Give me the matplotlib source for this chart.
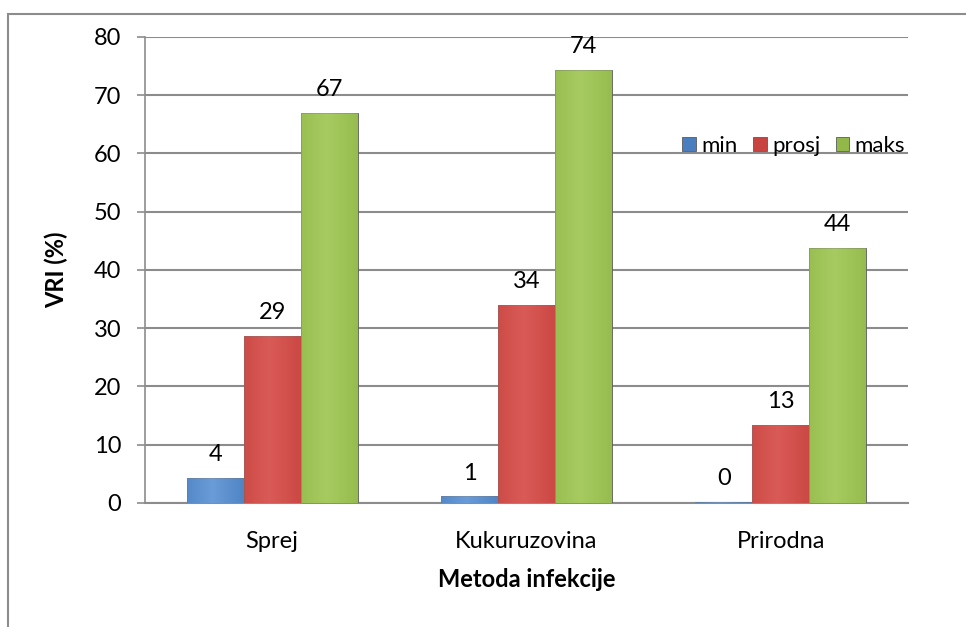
import numpy as np
import matplotlib.pyplot as plt
from matplotlib.patches import Rectangle
from matplotlib.colors import LinearSegmentedColormap

metode = ["Sprej", "Kukuruzovina", "Prirodna"]
serije = ["min", "prosj", "maks"]
vri_min = [4.3, 1.1, 0.2]
vri_prosj = [28.6, 34.0, 13.4]
vri_maks = [66.9, 74.4, 43.8]
oznake_y = [0, 10, 20, 30, 40, 50, 60, 70, 80]

boje = ["#4a7ebf", "#c84440", "#92b84a"]
svijetle = ["#7fb0ea", "#e46a66", "#b5d870"]

plt.rcParams['font.family'] = ['Lato', 'DejaVu Sans']
vel = 17

fig = plt.figure(figsize=(9.66, 6.27), dpi=100)
ax = fig.add_axes([0.150, 0.198, 0.790, 0.743])

# okvir oko grafikona
fig.patches.append(Rectangle((8 / 966, -0.1), 1.2, 1.1 - 14 / 627, transform=fig.transFigure,
                             fill=False, edgecolor="#8c8c8c", linewidth=1.5))

x = np.arange(len(metode))
sirina = 0.224
podaci = [vri_min, vri_prosj, vri_maks]

for i, vrijednosti in enumerate(podaci):
    pomak = (i - 1) * sirina
    stupci = ax.bar(x + pomak, vrijednosti, sirina, color=boje[i], edgecolor="#5a5a5a",
                    linewidth=0.6, label=serije[i], zorder=3)
    cmap = LinearSegmentedColormap.from_list("g", [boje[i], svijetle[i]])
    for s in stupci:
        x0, y0 = s.get_x(), s.get_y()
        w, h = s.get_width(), s.get_height()
        # blagi gradijent preko stupca
        grad = np.linspace(0, 1, 64)
        grad = 1 - np.abs(grad - 0.45) * 1.4
        img = np.tile(grad, (2, 1))
        im = ax.imshow(img, extent=[x0, x0 + w, y0, y0 + h], aspect="auto", cmap=cmap,
                       vmin=0, vmax=1, zorder=3.5, alpha=0.6)
        im.set_clip_path(s)
    for xi, v in zip(x + pomak, vrijednosti):
        ax.text(xi, v + 2.2, "%d" % round(v), ha="center", va="bottom", fontsize=vel)

ax.set_xlim(-0.5, 2.5)
ax.set_ylim(0, 80)
ax.set_yticks(oznake_y)
ax.set_xticks(x)
ax.set_xticklabels(metode, fontsize=vel)
ax.tick_params(axis="y", labelsize=vel, length=6, color="#8c8c8c", width=1.2, pad=11)
ax.tick_params(axis="x", length=0, pad=20)
ax.grid(axis="y", color="#8c8c8c", linewidth=1.5, zorder=0)
for strana in ["top", "right"]:
    ax.spines[strana].set_visible(False)
ax.spines["left"].set_color("#8c8c8c")
ax.spines["bottom"].set_color("#8c8c8c")
ax.spines["left"].set_linewidth(1.2)
ax.spines["bottom"].set_linewidth(1.5)

ax.set_ylabel("VRI (%)", fontsize=vel, fontweight="bold", labelpad=18)
ax.set_xlabel("Metoda infekcije", fontsize=vel, fontweight="bold", labelpad=12)

ax.legend(loc="center right", bbox_to_anchor=(1.008, 0.766), frameon=False, ncol=3, fontsize=16,
          handlelength=0.6, handleheight=0.6, handletextpad=0.25, columnspacing=0.7,
          borderaxespad=0)

fig.savefig("out.png", dpi=100)
